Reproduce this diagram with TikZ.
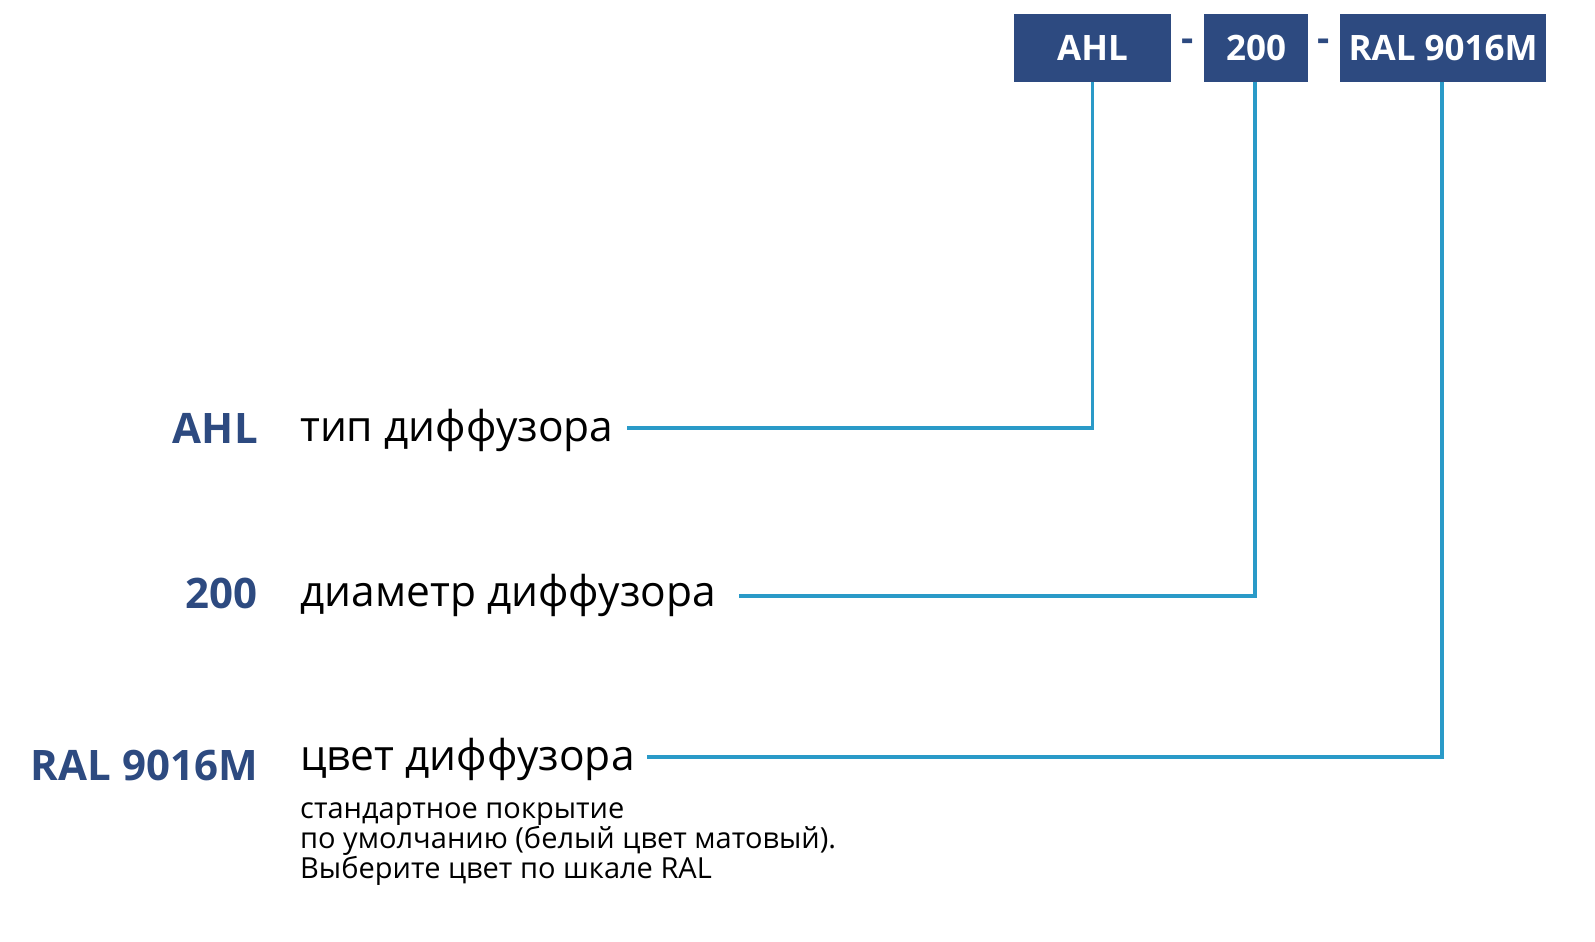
\documentclass[tikz,border=0pt]{standalone}
\usepackage{fontspec}
\setmainfont{Open Sans}
\definecolor{boxblue}{HTML}{2D4A80}
\definecolor{lineblue}{HTML}{2A9AC8}
\begin{document}
\begin{tikzpicture}[x=1pt,y=-1pt,
  codebox/.style={fill=boxblue,text=white,inner sep=0pt,font=\fontsize{35}{40}\selectfont\bfseries},
  sep/.style={inner sep=0pt,text=boxblue,font=\fontsize{38}{40}\selectfont\bfseries},
  keylabel/.style={anchor=base east,inner sep=0pt,text=boxblue,font=\fontsize{42}{46}\selectfont\bfseries},
  desc/.style={anchor=base west,inner sep=0pt,text=black,font=\fontsize{42.5}{46}\selectfont},
  note/.style={anchor=base west,inner sep=0pt,align=left,font=\fontsize{29}{30}\selectfont},
  link/.style={draw=lineblue,line width=3.5pt}]
\useasboundingbox (0,0) rectangle (1595,942);
% top code boxes
\node[codebox,minimum width=157pt,minimum height=68pt] (bA) at (1092.5,48) {AHL};
\node[codebox,minimum width=104pt,minimum height=68pt] (bB) at (1256,48) {200};
\node[codebox,minimum width=206pt,minimum height=68pt] (bC) at (1443,48) {RAL 9016M};
\node[sep] (d1) at (1188,45) {-};
\node[sep] (d2) at (1324,45) {-};
% left labels
\node[keylabel] (kA) at (258,443) {AHL};
\node[keylabel] (kB) at (258,608) {200};
\node[keylabel] (kC) at (258,780) {RAL 9016M};
% descriptions
\node[desc] (tA) at (300,441) {тип диффузора};
\node[desc] (tB) at (300,606) {диаметр диффузора};
\node[desc] (tC) at (300,770) {цвет диффузора};
\node[note] (nC) at (300,878) {стандартное покрытие\\по умолчанию (белый цвет матовый).\\Выберите цвет по шкале RAL};
% connectors
\coordinate (eA) at (627,428);
\coordinate (eB) at (739,596);
\coordinate (eC) at (647,757);
\draw[link] (eA) -| (bA.south);
\draw[link] (eB) -| (bB.south -| 1255,0);
\draw[link] (eC) -| (bC.south -| 1442,0);
\end{tikzpicture}
\end{document}
